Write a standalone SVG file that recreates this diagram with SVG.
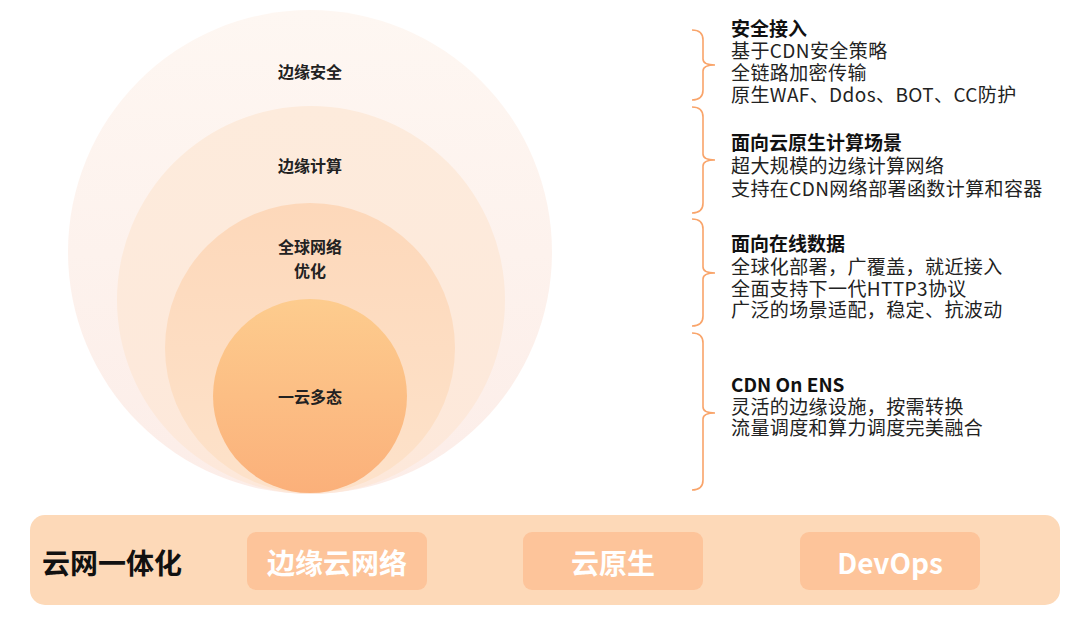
<svg xmlns="http://www.w3.org/2000/svg" width="1080" height="628" viewBox="0 0 1080 628">
  <style>
    .lbl{font-family:"Noto Sans CJK SC","Noto Sans",sans-serif;font-weight:700;font-size:16px;fill:#222;text-anchor:middle}
    .t{font-family:"Noto Sans CJK SC","Noto Sans",sans-serif;font-size:19px;fill:#222;letter-spacing:0.4px}
    .tb{font-family:"Noto Sans CJK SC","Noto Sans",sans-serif;font-size:19px;fill:#111;font-weight:700}
    .brace{fill:none;stroke:#F9A46A;stroke-width:1.6}
    .box{fill:#FDC49A}
    .boxt{font-family:"Noto Sans CJK SC","Noto Sans",sans-serif;font-weight:700;font-size:28px;fill:#fff;text-anchor:middle}
  </style>
  <defs>
    <linearGradient id="g1" x1="0" y1="0" x2="0" y2="1">
      <stop offset="0" stop-color="#FEF7F2"/>
      <stop offset="1" stop-color="#FCEDE8"/>
    </linearGradient>
    <linearGradient id="g2" x1="0" y1="0" x2="0" y2="1">
      <stop offset="0" stop-color="#FDEBDC"/>
      <stop offset="1" stop-color="#FDE8DA"/>
    </linearGradient>
    <linearGradient id="g3" x1="0" y1="0" x2="0" y2="1">
      <stop offset="0" stop-color="#FDD8BA"/>
      <stop offset="1" stop-color="#FDE2CA"/>
    </linearGradient>
    <linearGradient id="g4" x1="0" y1="0" x2="0" y2="1">
      <stop offset="0" stop-color="#FDCC8E"/>
      <stop offset="1" stop-color="#FBB07A"/>
    </linearGradient>
  </defs>
  <rect width="1080" height="628" fill="#fff"/>

  <g id="circle-security">
    <circle cx="310" cy="252" r="242" fill="url(#g1)"/>
    <text class="lbl" x="310" y="78">边缘安全</text>
  </g>
  <g id="circle-compute">
    <circle cx="311" cy="300" r="194" fill="url(#g2)"/>
    <text class="lbl" x="310" y="172">边缘计算</text>
  </g>
  <g id="circle-network">
    <circle cx="310" cy="348" r="145" fill="url(#g3)"/>
    <text class="lbl" x="310" y="253">全球网络</text>
    <text class="lbl" x="310" y="277">优化</text>
  </g>
  <g id="circle-core">
    <circle cx="310" cy="396" r="97" fill="url(#g4)"/>
    <text class="lbl" x="310" y="403">一云多态</text>
  </g>

  <g id="connectors">
    <path class="brace" d="M692,30 Q703,30 703,40 L703,59 Q703,65 715,65 Q703,65 703,71 L703,90 Q703,100 692,100"/>
    <path class="brace" d="M692,107 Q703,107 703,117 L703,154 Q703,160 715,160 Q703,160 703,166 L703,203 Q703,213 692,213"/>
    <path class="brace" d="M692,219 Q703,219 703,229 L703,267 Q703,273 715,273 Q703,273 703,279 L703,316 Q703,326 692,326"/>
    <path class="brace" d="M692,333 Q703,333 703,343 L703,407 Q703,413 715,413 Q703,413 703,419 L703,480 Q703,490 692,490"/>
  </g>

  <g id="desc-security">
    <text class="tb" x="731" y="36">安全接入</text>
    <text class="t" x="731" y="58">基于CDN安全策略</text>
    <text class="t" x="731" y="80">全链路加密传输</text>
    <text class="t" x="731" y="102">原生WAF、Ddos、BOT、CC防护</text>
  </g>
  <g id="desc-compute">
    <text class="tb" x="731" y="150">面向云原生计算场景</text>
    <text class="t" x="731" y="173">超大规模的边缘计算网络</text>
    <text class="t" x="731" y="196">支持在CDN网络部署函数计算和容器</text>
  </g>
  <g id="desc-network">
    <text class="tb" x="731" y="251">面向在线数据</text>
    <text class="t" x="731" y="274">全球化部署，广覆盖，就近接入</text>
    <text class="t" x="731" y="296">全面支持下一代HTTP3协议</text>
    <text class="t" x="731" y="317">广泛的场景适配，稳定、抗波动</text>
  </g>
  <g id="desc-core">
    <text class="tb" x="731" y="392">CDN On ENS</text>
    <text class="t" x="731" y="414">灵活的边缘设施，按需转换</text>
    <text class="t" x="731" y="435">流量调度和算力调度完美融合</text>
  </g>

  <g id="band">
    <rect x="30" y="515" width="1030" height="90" rx="15" fill="#FDD9B8"/>
    <text x="42" y="574" font-family="'Noto Sans CJK SC','Noto Sans',sans-serif" font-weight="700" font-size="28" fill="#111">云网一体化</text>
  </g>
  <g id="box-edge-cloud">
    <rect class="box" x="247" y="532" width="180" height="58" rx="9"/>
    <text class="boxt" x="337" y="574">边缘云网络</text>
  </g>
  <g id="box-cloud-native">
    <rect class="box" x="523" y="532" width="180" height="58" rx="9"/>
    <text class="boxt" x="613" y="574">云原生</text>
  </g>
  <g id="box-devops">
    <rect class="box" x="800" y="532" width="180" height="58" rx="9"/>
    <text class="boxt" x="890" y="574">DevOps</text>
  </g>
</svg>
